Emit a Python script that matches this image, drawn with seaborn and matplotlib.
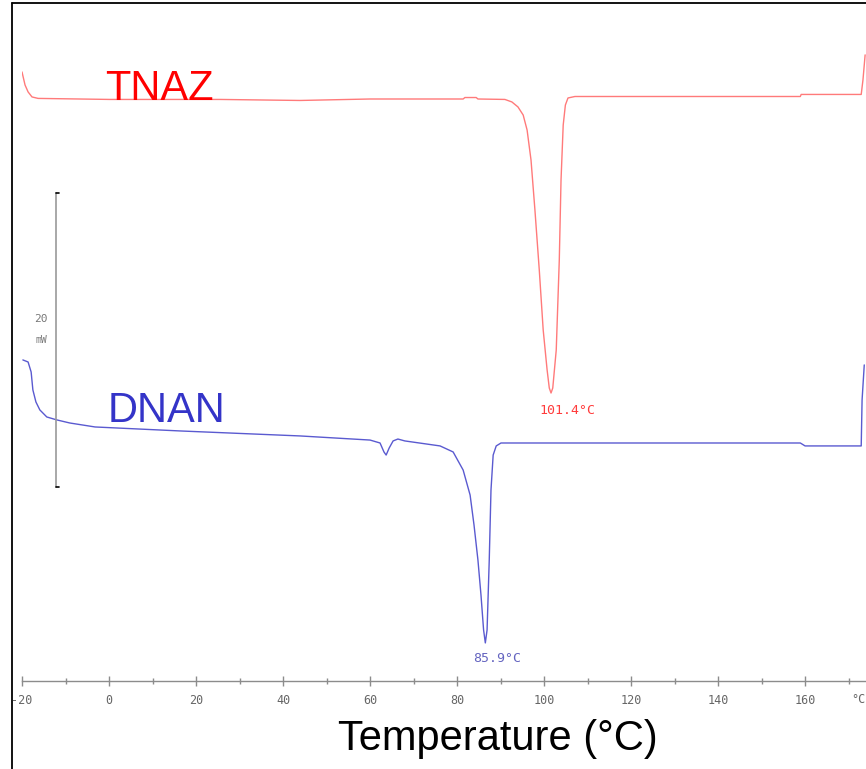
import matplotlib
matplotlib.use("Agg")
import matplotlib.pyplot as plt
from matplotlib.lines import Line2D
import pandas as pd
import seaborn as sns

# DSC traces: temperature (degC) and heat flow (mW, offset)
tnaz_temp = [-20.0, -19.3, -18.6, -17.7, -16.3, 0.2, 25.5, 43.9, 60.0, 81.4, 81.8,
             84.4, 84.8, 91.0, 92.6, 94.0, 95.2, 96.1, 97.0, 97.9, 98.9, 99.8,
             100.7, 101.2, 101.6, 102.0, 102.8, 103.5, 103.9, 104.4, 104.9, 105.5,
             107.1, 158.9, 159.1, 172.9, 173.3, 173.8]
tnaz_flow = [41.43, 40.54, 40.07, 39.73, 39.63, 39.56, 39.56, 39.49, 39.59, 39.59, 39.69,
             39.69, 39.59, 39.56, 39.39, 39.05, 38.50, 37.48, 35.44, 32.04, 27.96, 23.88,
             21.16, 19.93, 19.59, 19.93, 22.52, 28.64, 34.08, 37.82, 39.18, 39.66,
             39.76, 39.76, 39.90, 39.90, 40.88, 42.59]

dnan_temp = [-19.8, -18.6, -17.9, -17.5, -16.8, -15.9, -14.3, -12.0, -9.0, -3.2, 16.3,
             43.9, 60.0, 62.3, 63.2, 63.7, 64.4, 65.3, 66.4, 68.0, 76.1, 79.1, 81.4,
             83.0, 83.9, 84.8, 85.5, 86.1, 86.5, 86.9, 87.4, 87.8, 88.3, 89.0, 90.1,
             158.9, 160.0, 172.9, 173.1, 173.6]
dnan_flow = [21.84, 21.70, 21.02, 19.80, 18.98, 18.44, 17.96, 17.76, 17.55, 17.28, 17.01,
             16.67, 16.39, 16.19, 15.58, 15.37, 15.85, 16.33, 16.46, 16.33, 15.99, 15.58, 14.35,
             12.65, 10.61, 8.23, 5.85, 3.47, 2.59, 3.47, 8.23, 12.99, 15.37, 15.99, 16.19,
             16.19, 15.99, 15.99, 19.12, 21.50]

peak_labels = {"TNAZ": "101.4°C", "DNAN": "85.9°C"}
tick_values = [-20, 0, 20, 40, 60, 80, 100, 120, 140, 160]

tnaz = pd.DataFrame({"T": tnaz_temp, "Q": tnaz_flow})
dnan = pd.DataFrame({"T": dnan_temp, "Q": dnan_flow})

sns.set_style("white")
plt.rcParams["font.family"] = ["Liberation Sans", "DejaVu Sans"]

fig = plt.figure(figsize=(8.66, 7.69), dpi=100)
ax = fig.add_axes([22 / 866, 88 / 769, 844 / 866, 678 / 769])

sns.lineplot(data=tnaz, x="T", y="Q", ax=ax, color="#ff7a7a", linewidth=1.0,
             estimator=None, sort=False)
sns.lineplot(data=dnan, x="T", y="Q", ax=ax, color="#5a5ad0", linewidth=1.0,
             estimator=None, sort=False)

ax.set_xlim(-20, 174.0)
ax.set_ylim(0, 46.12)

# series names
ax.text(-0.8, 39.5, "TNAZ", color="#ff0000", fontsize=30, ha="left", va="baseline")
ax.text(-0.3, 17.6, "DNAN", color="#3434c8", fontsize=30, ha="left", va="baseline")

# peak temperatures
ax.text(105.3, 18.4, peak_labels["TNAZ"], color="#ff3c3c",
        fontsize=9.5, family="DejaVu Sans Mono", ha="center", va="center")
ax.text(89.2, 1.55, peak_labels["DNAN"], color="#6464c0",
        fontsize=9.5, family="DejaVu Sans Mono", ha="center", va="center")

# 20 mW scale bar
ax.plot([-12.2, -12.2], [13.2, 33.2], color="#9a9a9a", linewidth=1.2)
ax.plot([-12.2, -11.5], [33.2, 33.2], color="black", linewidth=1.2)
ax.plot([-12.2, -11.5], [13.2, 13.2], color="black", linewidth=1.2)
ax.text(-15.6, 24.6, "20", color="#777777", fontsize=8, family="DejaVu Sans Mono",
        ha="center", va="center")
ax.text(-15.6, 23.2, "mW", color="#777777", fontsize=7, family="DejaVu Sans Mono",
        ha="center", va="center")

# x axis styling
for side in ["left", "top", "right"]:
    ax.spines[side].set_visible(False)
ax.spines["bottom"].set_color("#8c8c8c")
ax.spines["bottom"].set_linewidth(1.0)
ax.set_xticks(tick_values)
ax.set_xticks(range(-10, 180, 20), minor=True)
ax.set_xticklabels([str(v) for v in tick_values], family="DejaVu Sans Mono",
                   fontsize=8.5, color="#666666")
ax.tick_params(axis="x", which="major", direction="inout", length=7, width=1,
               color="#8c8c8c", pad=6, bottom=True)
ax.tick_params(axis="x", which="minor", direction="inout", length=5, width=1,
               color="#8c8c8c", bottom=True)
ax.set_yticks([])
ax.set_xlabel("")
ax.set_ylabel("")
ax.text(172.3, -0.028, "°C", transform=ax.get_xaxis_transform(), color="#666666",
        fontsize=8.5, family="DejaVu Sans Mono", ha="center", va="center")

fig.text(498 / 866, 1 - 739 / 769, "Temperature (°C)", fontsize=30, color="black",
         ha="center", va="center")

# outer frame (left and top edges visible)
fig.add_artist(Line2D([12 / 866, 12 / 866], [0, 1 - 3 / 769], color="black",
                      linewidth=1.3, transform=fig.transFigure))
fig.add_artist(Line2D([12 / 866, 1], [1 - 3 / 769, 1 - 3 / 769], color="black",
                      linewidth=1.3, transform=fig.transFigure))

fig.savefig("out.png", dpi=100)
